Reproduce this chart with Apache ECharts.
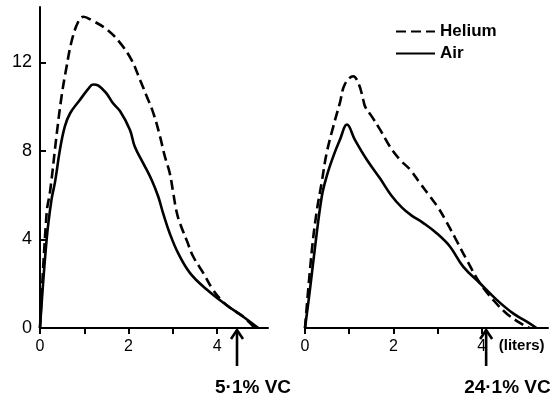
<!DOCTYPE html>
<html>
<head>
<meta charset="utf-8">
<script src="https://cdn.jsdelivr.net/npm/echarts@6/dist/echarts.min.js"></script>
<style>
html,body{margin:0;padding:0;background:#fff;}
#c{width:558px;height:402px;}
</style>
</head>
<body>
<div id="c"></div>
<script>
// Flow (y) vs volume in liters (x)
var heliumLeft = [[0,0],[0.15,5.2],[0.23,6.2],[0.38,8.8],[0.49,10.5],[0.6,11.8],[0.72,13.0],[0.87,13.86],[0.98,14.06],[1.17,13.9],[1.5,13.5],[1.8,12.9],[2.07,12.1],[2.26,11.2],[2.41,10.47],[2.56,9.71],[2.71,8.66],[2.82,7.75],[2.93,7.0],[3.01,6.1],[3.08,5.3],[3.16,4.74],[3.31,3.98],[3.46,3.23],[3.69,2.48],[3.9,1.75],[4.1,1.25],[4.3,0.9],[4.6,0.5],[4.85,0]];
var airLeft = [[0,0],[0.15,4.0],[0.26,5.8],[0.34,6.6],[0.45,8.05],[0.56,9.1],[0.68,9.7],[0.9,10.3],[1.09,10.8],[1.2,11.0],[1.32,10.95],[1.5,10.6],[1.65,10.15],[1.81,9.79],[2.03,8.96],[2.14,8.2],[2.33,7.45],[2.52,6.7],[2.67,5.94],[2.78,5.19],[2.93,4.28],[3.12,3.38],[3.39,2.48],[3.76,1.75],[4.21,1.04],[4.59,0.51],[4.93,0]];
var heliumRight = [[0,0],[0.15,3.4],[0.26,5.2],[0.38,6.6],[0.49,7.9],[0.64,9.1],[0.79,10.17],[0.9,11.0],[1.09,11.37],[1.22,11.0],[1.32,10.3],[1.36,10.0],[1.51,9.56],[1.7,8.96],[1.92,8.2],[2.15,7.6],[2.38,7.15],[2.6,6.55],[2.83,5.94],[3.02,5.42],[3.2,4.8],[3.39,4.1],[3.66,3.08],[3.96,2.02],[4.26,1.27],[4.56,0.66],[4.94,0.14],[5.09,0]];
var airRight = [[0,0],[0.11,1.7],[0.23,3.7],[0.38,5.94],[0.49,6.85],[0.64,7.75],[0.79,8.5],[0.95,9.19],[1.13,8.5],[1.4,7.6],[1.7,6.75],[1.95,6.0],[2.19,5.45],[2.4,5.1],[2.68,4.74],[2.98,4.28],[3.28,3.68],[3.58,2.77],[3.96,2.02],[4.34,1.27],[4.71,0.66],[5.02,0.29],[5.24,0]];
var yTicks = [0,4,8,12];
var xTicks = [0,1,2,3,4];
var xLabels = [0,2,4];
var arrowLeftX = 4.45, arrowRightX = 4.1;
var noteLeft = '5·1% VC', noteRight = '24·1% VC';
var unitLabel = '(liters)';

var FONT = 'Liberation Sans';
var chart = echarts.init(document.getElementById('c'));
var axisLine = {show:true, lineStyle:{color:'#000', width:2}};
function xAxis(idx, max){
  return {type:'value', gridIndex:idx, min:0, max:max,
    axisLine:axisLine, splitLine:{show:false},
    axisTick:{show:true, inside:false, length:6, customValues:xTicks, lineStyle:{color:'#000',width:2}},
    axisLabel:{show:true, customValues:xLabels, margin:11, color:'#000', fontSize:16, fontFamily:FONT}};
}
var dashStyle = {color:'#000', width:2.6, type:[10,5]};
var solidStyle = {color:'#000', width:2.6, type:'solid'};
function ser(name, idx, data, ls){
  return {name:name, type:'line', xAxisIndex:idx, yAxisIndex:idx, data:data, symbol:'none', smooth:0.4,
    lineStyle:ls, itemStyle:{color:'#000'}, silent:true, animation:false};
}
chart.setOption({
  animation:false,
  backgroundColor:'#fff',
  grid:[{left:40, top:7, width:228, height:321},{left:305, top:7, width:243, height:321}],
  xAxis:[xAxis(0,5.15), xAxis(1,5.5)],
  yAxis:[
    {type:'value', gridIndex:0, min:0, max:14.5, axisLine:axisLine, splitLine:{show:false},
     axisTick:{show:true, inside:true, length:6, customValues:yTicks, lineStyle:{color:'#000',width:2}},
     axisLabel:{show:true, customValues:yTicks, margin:8, color:'#000', fontSize:18, fontFamily:FONT}},
    {type:'value', gridIndex:1, min:0, max:14.5, show:false}
  ],
  legend:{data:['Helium','Air'], orient:'vertical', left:390, top:18, itemWidth:39, itemHeight:14, itemGap:5,
    itemStyle:{opacity:0},
    textStyle:{color:'#000', fontSize:17, fontWeight:'bold', fontFamily:FONT}},
  series:[
    ser('Helium',0,heliumLeft,dashStyle), ser('Air',0,airLeft,solidStyle),
    ser('Helium',1,heliumRight,dashStyle), ser('Air',1,airRight,solidStyle)
  ]
});
function arrowGraphic(gridIdx, xv, text){
  var p = chart.convertToPixel({gridIndex:gridIdx}, [xv, 0]);
  var x = p[0], y = p[1] + 2;
  return [
    {type:'line', shape:{x1:x, y1:y, x2:x, y2:y+36}, style:{stroke:'#000', lineWidth:2.6}},
    {type:'polyline', shape:{points:[[x-6,y+9],[x,y],[x+6,y+9]]}, style:{stroke:'#000', lineWidth:2.6, fill:null}},
    {type:'text', x:x-22, y:y+58, style:{text:text, fill:'#000', font:'bold 19px "'+FONT+'"', textAlign:'left', textVerticalAlign:'middle'}}
  ];
}
var g = [].concat(arrowGraphic(0, arrowLeftX, noteLeft), arrowGraphic(1, arrowRightX, noteRight));
var pu = chart.convertToPixel({gridIndex:1}, [4, 0]);
g.push({type:'text', x:pu[0]+17, y:pu[1]+18, style:{text:unitLabel, fill:'#000', font:'bold 15px "'+FONT+'"', textAlign:'left', textVerticalAlign:'middle'}});
chart.setOption({graphic:g});
</script>
</body>
</html>
